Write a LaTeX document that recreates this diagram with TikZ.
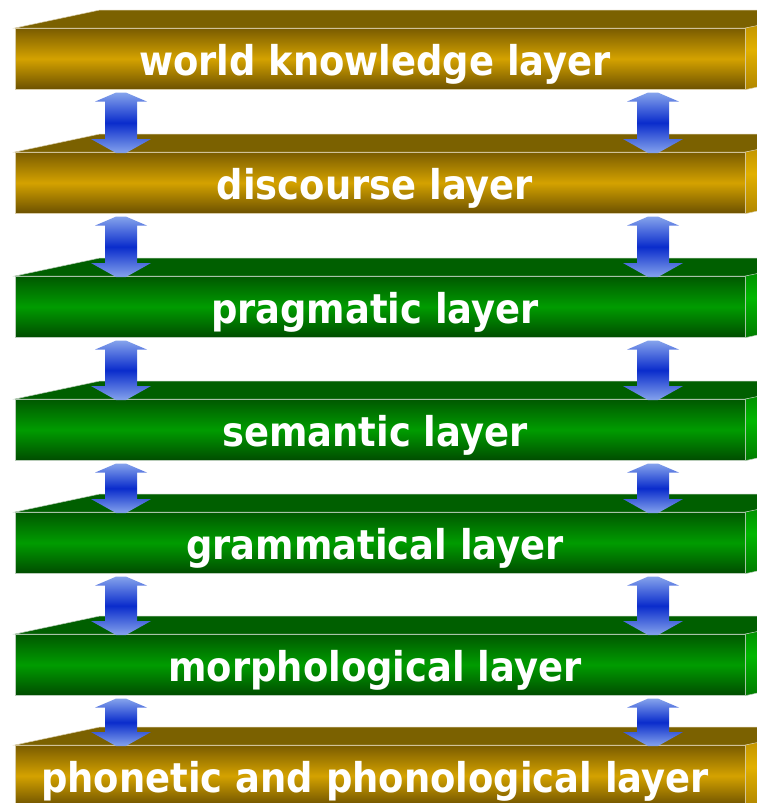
\documentclass[tikz,border=0pt]{standalone}
\usepackage{fontspec}
\newfontfamily\lblfont{DejaVu Sans}[FakeStretch=0.9]
\usetikzlibrary{calc}
\definecolor{gdark}{HTML}{7A5C00}
\definecolor{gdarkb}{HTML}{6C5100}
\definecolor{gmid}{HTML}{D4A200}
\definecolor{gtop}{HTML}{7B6100}
\definecolor{gside}{HTML}{B08600}
\definecolor{gsidemid}{HTML}{E2B000}
\definecolor{gedge}{HTML}{D8CCA8}
\definecolor{ndark}{HTML}{005800}
\definecolor{ndarkb}{HTML}{004C00}
\definecolor{nmid}{HTML}{009C00}
\definecolor{ntop}{HTML}{005F00}
\definecolor{nside}{HTML}{007A00}
\definecolor{nsidemid}{HTML}{00B800}
\definecolor{nedge}{HTML}{B8CCB8}
\definecolor{alight}{HTML}{85A3EC}
\definecolor{adark}{HTML}{0A2CCC}
\newcommand\blockarrow[2]{%
  \path[arrowshade] let \p1=(#1), \p2=(#2) in
    (\x1-5pt,\y1) -- (\x1+5pt,\y1) -- (\x1+26pt,\y1-9pt) -- (\x1+16pt,\y1-9pt)
    -- (\x1+16pt,\y2+14pt) -- (\x1+30pt,\y2+14pt) -- (\x1+5pt,\y2) -- (\x1-5pt,\y2)
    -- (\x1-30pt,\y2+14pt) -- (\x1-16pt,\y2+14pt) -- (\x1-16pt,\y1-9pt)
    -- (\x1-26pt,\y1-9pt) -- cycle;}
\begin{document}
\begin{tikzpicture}[x=1pt,y=-1pt,
  slab/.style={minimum width=730pt, minimum height=61pt, inner sep=0pt,
    anchor=north west, line width=0.6pt},
  goldfront/.style={slab, top color=gdark, bottom color=gdarkb, middle color=gmid, draw=gedge},
  greenfront/.style={slab, top color=ndark, bottom color=ndarkb, middle color=nmid, draw=nedge},
  goldtopface/.style={fill=gtop, draw=gedge, line width=0.5pt},
  greentopface/.style={fill=ntop, draw=nedge, line width=0.5pt},
  goldsideface/.style={top color=gside, bottom color=gside, middle color=gsidemid, draw=gedge, line width=0.5pt},
  greensideface/.style={top color=nside, bottom color=nside, middle color=nsidemid, draw=nedge, line width=0.5pt},
  arrowshade/.style={top color=alight, bottom color=alight, middle color=adark},
  lbl/.style={anchor=base, text=white, inner sep=0pt,
    font=\lblfont\bfseries\fontsize{41}{41}\selectfont}]
\useasboundingbox (0,0) rectangle (757,803);
\fill[white] (0,0) rectangle (757,803);
% slabs
\foreach \i/\T/\kind in {1/28/gold,2/152/gold,3/276/green,4/399/green,5/512/green,6/634/green,7/745/gold}{
  \node[\kind front] (L\i) at (15,\T) {};
  \path[\kind topface] (L\i.north west) -- ++(85,-18) -- ++(760,0) -- (L\i.north east) -- cycle;
  \path[\kind sideface] (L\i.north east) -- ++(85,-18) -- ++(0,61) -- (L\i.south east) -- cycle;
}
% arrows
\foreach \i/\j in {1/2,2/3,3/4,4/5,5/6,6/7}{
  \coordinate (ul\i) at ($(L\i.south west)+(106,3)$);
  \coordinate (dl\i) at ($(L\j.north west)+(106,1)$);
  \coordinate (ur\i) at ($(L\i.south west)+(638,3)$);
  \coordinate (dr\i) at ($(L\j.north west)+(638,1)$);
  \blockarrow{ul\i}{dl\i}
  \blockarrow{ur\i}{dr\i}
}
% labels
\node[lbl] (t1) at (375,75) {world knowledge layer};
\node[lbl] (t2) at (375,199) {discourse layer};
\node[lbl] (t3) at (375,323) {pragmatic layer};
\node[lbl] (t4) at (375,446) {semantic layer};
\node[lbl] (t5) at (375,559) {grammatical layer};
\node[lbl] (t6) at (375,681) {morphological layer};
\node[lbl] (t7) at (375,792) {phonetic and phonological layer};
\end{tikzpicture}
\end{document}
